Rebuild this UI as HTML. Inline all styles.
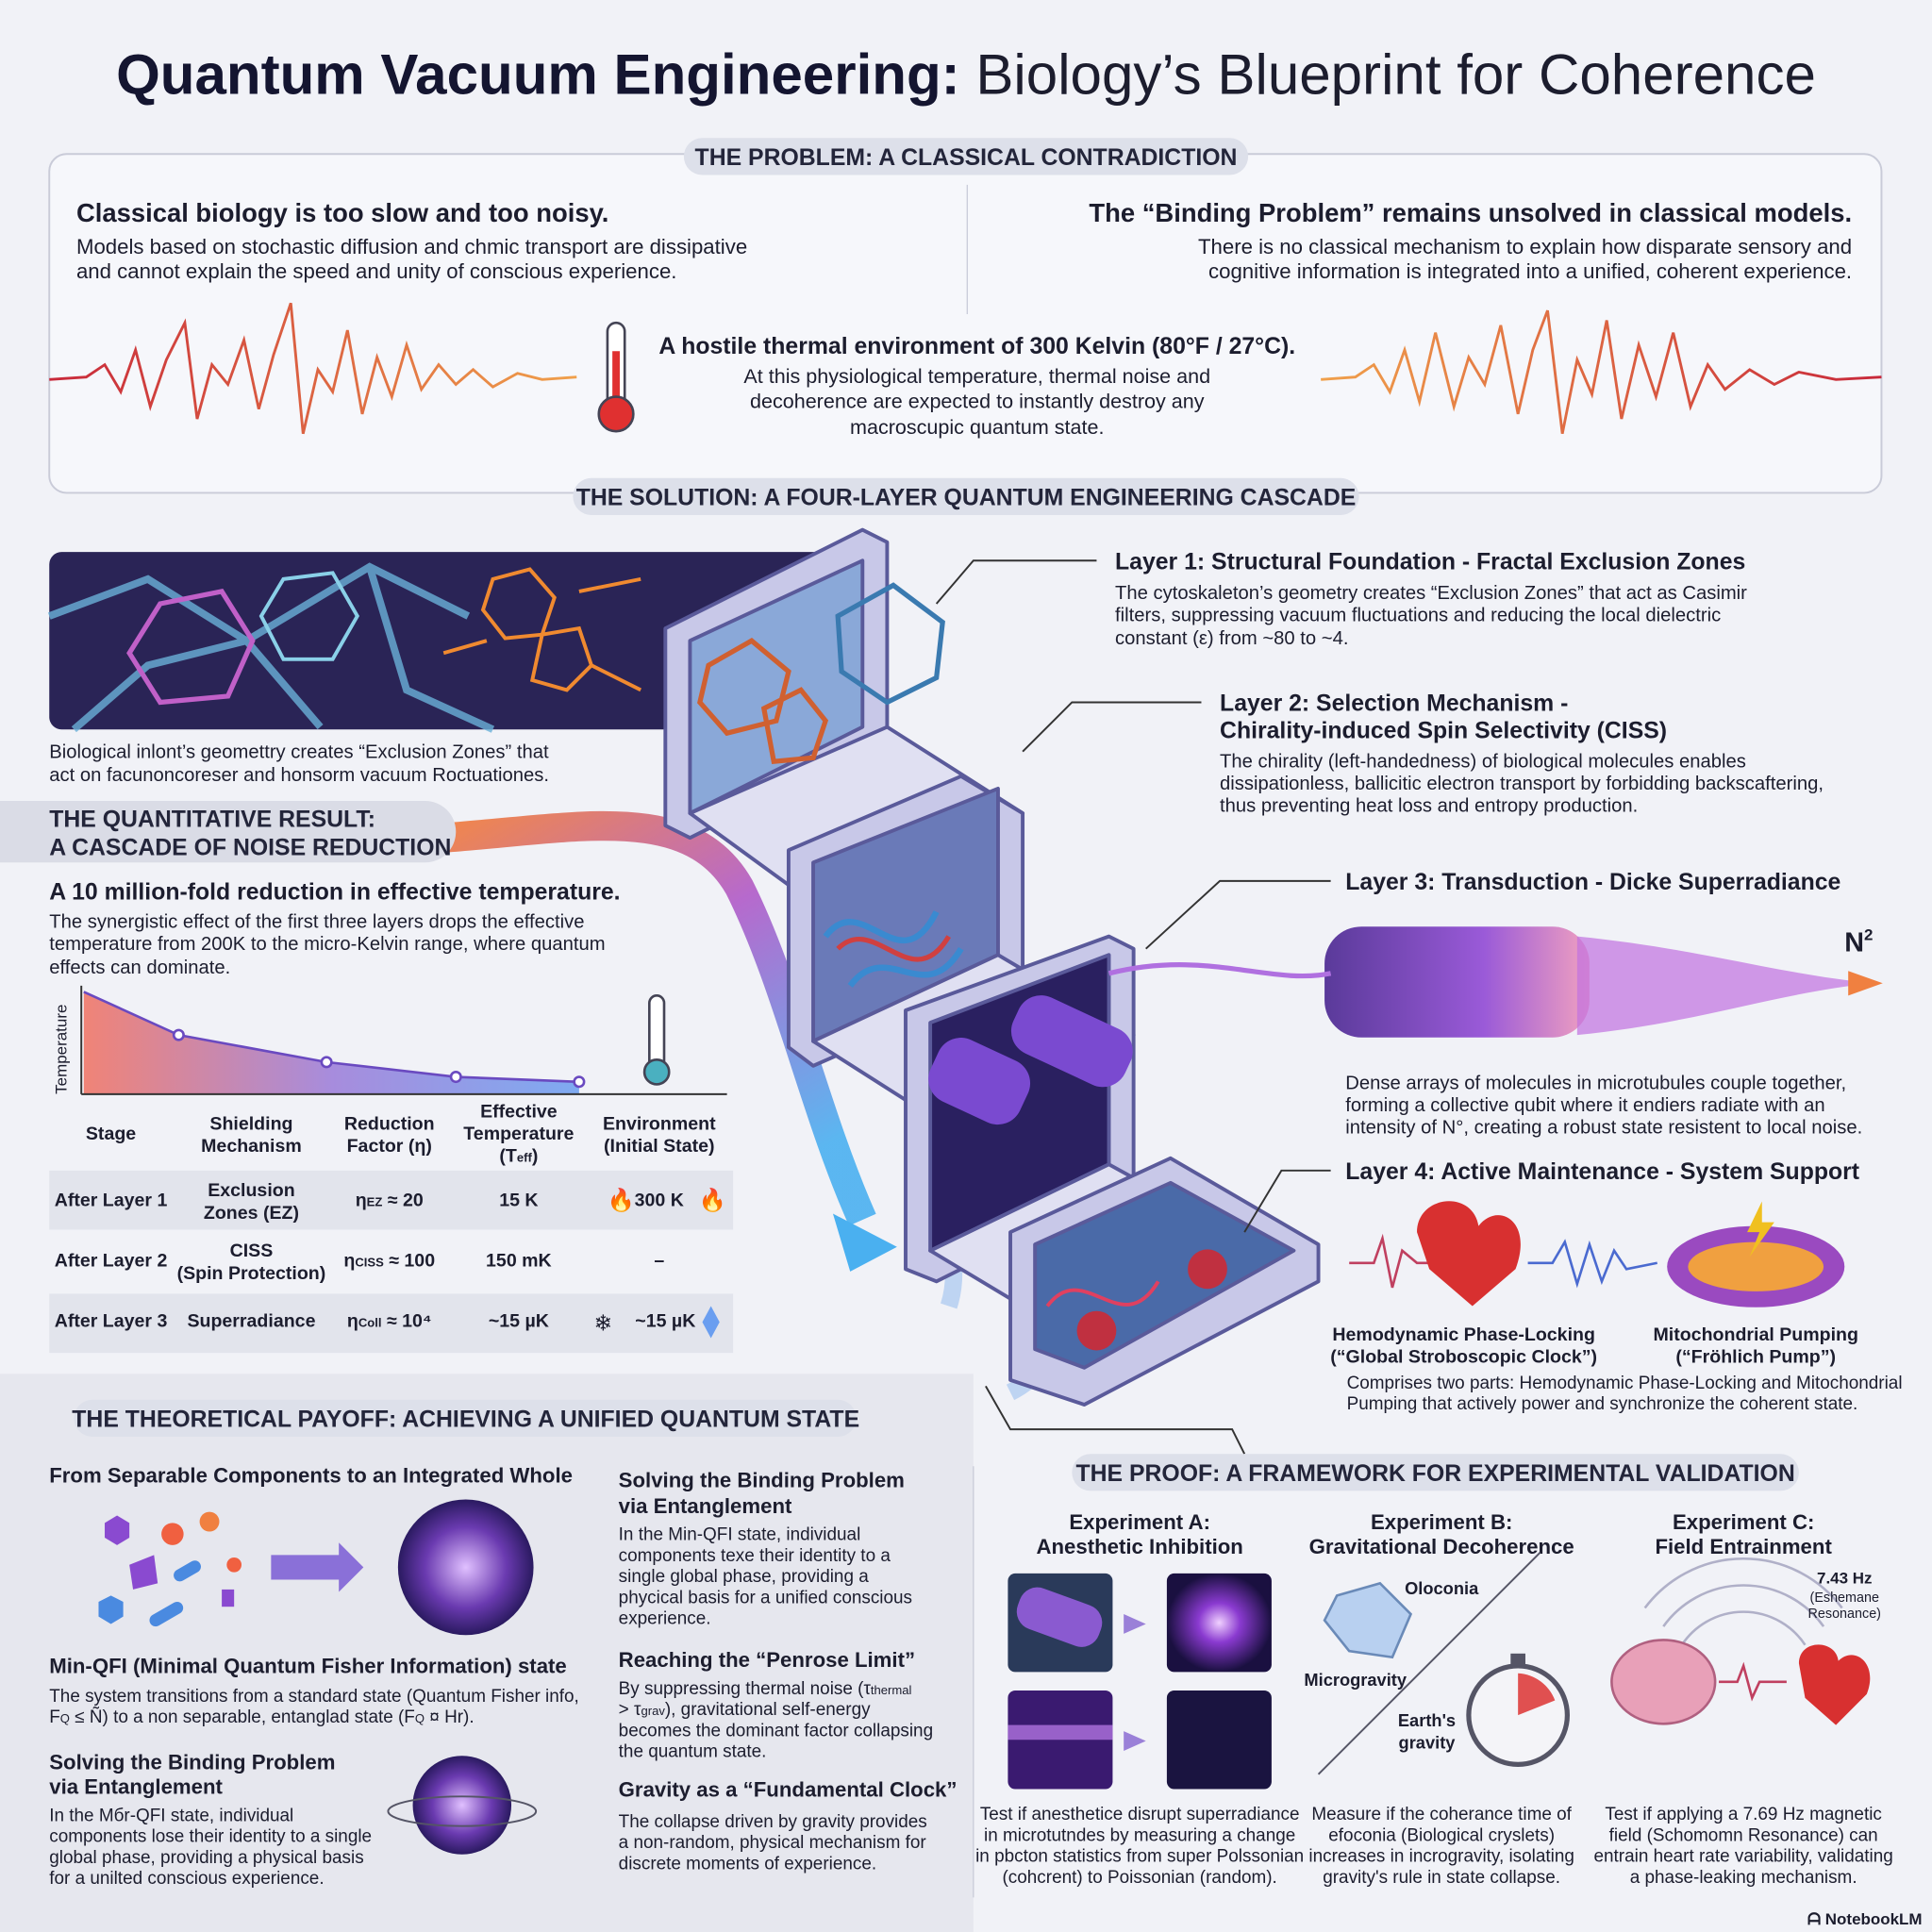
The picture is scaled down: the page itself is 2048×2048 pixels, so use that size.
<!DOCTYPE html>
<html><head><meta charset="utf-8"><style>
html,body{margin:0;padding:0;background:#f1f2f7;}
svg{display:block}
text{font-family:"Liberation Sans",sans-serif;fill:#1c1d2e}
.h{font-weight:bold}
.pill{fill:#dde0ea}
.pt{font-weight:bold;font-size:19px;fill:#23253a}
</style></head><body>
<svg width="2048" height="2048" viewBox="0 0 1568 1568" xmlns="http://www.w3.org/2000/svg">
<defs>
<linearGradient id="wv" x1="0" x2="1"><stop offset="0" stop-color="#c8283a"/><stop offset="1" stop-color="#f0a04a"/></linearGradient>
<linearGradient id="wv2" x1="0" x2="1"><stop offset="0" stop-color="#f0a04a"/><stop offset="1" stop-color="#c8283a"/></linearGradient>
<linearGradient id="ar" x1="0" y1="0" x2="0.6" y2="1"><stop offset="0" stop-color="#f07a3a"/><stop offset="0.45" stop-color="#b05ac8"/><stop offset="1" stop-color="#4ab0f0"/></linearGradient>
<linearGradient id="ch" x1="0" x2="1"><stop offset="0" stop-color="#f07060"/><stop offset="0.5" stop-color="#9a7ad8"/><stop offset="1" stop-color="#6a9ef0"/></linearGradient>
<linearGradient id="mt" x1="0" x2="1"><stop offset="0" stop-color="#5a3a9a"/><stop offset="0.6" stop-color="#9a5ad8"/><stop offset="1" stop-color="#f0a0c0"/></linearGradient>
<radialGradient id="gl"><stop offset="0" stop-color="#f0d0ff"/><stop offset="0.4" stop-color="#8a3ad0"/><stop offset="1" stop-color="#1a1040"/></radialGradient>
<radialGradient id="sp"><stop offset="0" stop-color="#e0c0ff"/><stop offset="0.6" stop-color="#6a3ab0"/><stop offset="1" stop-color="#2a1a60"/></radialGradient>
</defs>
<rect width="1568" height="1568" fill="#f1f2f7"/>
<rect x="0" y="1115" width="790" height="453" fill="#e6e7ee"/>
<text x="784" y="76" text-anchor="middle" font-size="46"><tspan class="h" fill="#141530">Quantum Vacuum Engineering:</tspan><tspan fill="#1c1d2e"> Biology’s Blueprint for Coherence</tspan></text>
<rect x="40" y="125" width="1487" height="275" rx="14" fill="#f6f7fb" stroke="#c9cbd8" stroke-width="1.5"/>
<rect x="555" y="112" width="458" height="30" rx="15" class="pill"/>
<text x="784" y="134" text-anchor="middle" class="pt">THE PROBLEM: A CLASSICAL CONTRADICTION</text>
<text x="62" y="180" class="h" font-size="21">Classical biology is too slow and too noisy.</text>
<text x="62" y="206" font-size="17">Models based on stochastic diffusion and chmic transport are dissipative</text>
<text x="62" y="226" font-size="17">and cannot explain the speed and unity of conscious experience.</text>
<line x1="785" y1="150" x2="785" y2="255" stroke="#c9cbd8"/>
<text x="1503" y="180" text-anchor="end" class="h" font-size="21">The “Binding Problem” remains unsolved in classical models.</text>
<text x="1503" y="206" text-anchor="end" font-size="17">There is no classical mechanism to explain how disparate sensory and</text>
<text x="1503" y="226" text-anchor="end" font-size="17">cognitive information is integrated into a unified, coherent experience.</text>
<polyline fill="none" stroke="url(#wv)" stroke-width="2.2" points="40,308 70,306 85,296 98,318 110,284 122,330 135,292 150,262 160,340 172,296 185,312 198,276 210,332 222,288 236,246 246,352 258,300 270,318 282,268 294,336 306,290 318,322 330,280 342,316 356,296 370,312 384,300 400,314 420,303 440,308 468,306"/>
<polyline fill="none" stroke="url(#wv2)" stroke-width="2.2" points="1072,308 1100,306 1115,296 1128,318 1140,284 1152,326 1165,270 1180,330 1192,290 1205,312 1218,264 1232,336 1244,284 1256,252 1268,352 1280,292 1292,320 1304,260 1316,340 1330,280 1344,322 1358,270 1372,330 1386,296 1400,316 1420,300 1440,312 1460,302 1490,308 1527,306"/>
<rect x="493" y="262" width="14" height="72" rx="7" fill="#fff" stroke="#445" stroke-width="2"/>
<rect x="497" y="285" width="6" height="52" fill="#e03030"/>
<circle cx="500" cy="336" r="14" fill="#e03030" stroke="#445" stroke-width="2"/>
<text x="793" y="287" text-anchor="middle" class="h" font-size="19">A hostile thermal environment of 300 Kelvin (80°F / 27°C).</text>
<text x="793" y="311" text-anchor="middle" font-size="16.5">At this physiological temperature, thermal noise and</text>
<text x="793" y="331" text-anchor="middle" font-size="16.5">decoherence are expected to instantly destroy any</text>
<text x="793" y="352" text-anchor="middle" font-size="16.5">macroscupic quantum state.</text>
<rect x="465" y="388" width="638" height="30" rx="15" class="pill"/>
<text x="784" y="410" text-anchor="middle" class="pt">THE SOLUTION: A FOUR-LAYER QUANTUM ENGINEERING CASCADE</text>
<rect x="40" y="448" width="660" height="144" rx="10" fill="#2a2456"/>
<g fill="none" stroke="#6ab0d8" stroke-width="6" opacity="0.8">
<path d="M40,500 L120,470 L200,520 L300,460 L380,500"/><path d="M60,592 L120,540 L200,520 L260,590"/><path d="M300,460 L330,560 L400,592"/></g>
<polygon points="130,490 180,480 205,520 185,565 130,570 105,530" fill="none" stroke="#c060c8" stroke-width="4"/>
<polygon points="230,470 270,465 290,500 270,535 230,535 212,500" fill="none" stroke="#8ad0e8" stroke-width="3"/>
<g fill="none" stroke="#f08a30" stroke-width="3"><polygon points="400,470 430,462 450,485 440,515 410,518 392,495"/><polygon points="440,515 470,510 480,540 460,560 432,552"/><path d="M360,530 L395,520 M480,540 L520,560 M470,480 L520,470"/></g>
<text x="40" y="615" font-size="15.5">Biological inlont’s geomettry creates “Exclusion Zones” that</text>
<text x="40" y="634" font-size="15.5">act on facunoncoreser and honsorm vacuum Roctuationes.</text>
<!-- arrows -->
<path d="M360,680 C470,672 560,650 600,720 C640,800 660,900 700,990" fill="none" stroke="url(#ar)" stroke-width="24" opacity="0.9"/>
<polygon points="676,985 728,1012 690,1032" fill="#4ab0f0"/>
<path d="M650,660 C660,760 680,820 700,850" fill="none" stroke="#b090e0" stroke-width="14" opacity="0.7"/>
<path d="M760,940 C770,1000 780,1030 770,1060" fill="none" stroke="#a8c8f0" stroke-width="14" opacity="0.7"/>
<path d="M860,1060 C860,1100 840,1120 820,1130" fill="none" stroke="#a8c8f0" stroke-width="14" opacity="0.7"/>
<path d="M0,650 H345 A25,25 0 0 1 345,700 H0 Z" fill="#dadce6"/>
<text x="40" y="671" class="pt" font-size="19">THE QUANTITATIVE RESULT:</text>
<text x="40" y="694" class="pt" font-size="19">A CASCADE OF NOISE REDUCTION</text>
<text x="40" y="730" class="h" font-size="19">A 10 million-fold reduction in effective temperature.</text>
<text x="40" y="753" font-size="15.5">The synergistic effect of the first three layers drops the effective</text>
<text x="40" y="771" font-size="15.5">temperature from 200K to the micro-Kelvin range, where quantum</text>
<text x="40" y="790" font-size="15.5">effects can dominate.</text>
<path d="M68,805 L145,840 L265,862 L370,874 L470,878 L470,888 L68,888 Z" fill="url(#ch)" opacity="0.85"/>
<polyline points="68,805 145,840 265,862 370,874 470,878" fill="none" stroke="#6a4ac0" stroke-width="2"/>
<g fill="#fff" stroke="#6a4ac0" stroke-width="2"><circle cx="145" cy="840" r="4"/><circle cx="265" cy="862" r="4"/><circle cx="370" cy="874" r="4"/><circle cx="470" cy="878" r="4"/></g>
<line x1="66" y1="800" x2="66" y2="888" stroke="#333" stroke-width="1.5"/><line x1="66" y1="888" x2="590" y2="888" stroke="#333" stroke-width="1.5"/>
<text x="54" y="888" font-size="13" transform="rotate(-90 54 888)">Temperature</text>
<rect x="527" y="808" width="12" height="60" rx="6" fill="#fff" stroke="#445" stroke-width="2"/><circle cx="533" cy="870" r="10" fill="#4ab0c0" stroke="#445" stroke-width="2"/>
<g font-size="15" font-weight="bold" text-anchor="middle">
<text x="90" y="925">Stage</text><text x="204" y="917">Shielding</text><text x="204" y="935">Mechanism</text>
<text x="316" y="917">Reduction</text><text x="316" y="935">Factor (η)</text>
<text x="421" y="907">Effective</text><text x="421" y="925">Temperature</text><text x="421" y="943">(T<tspan font-size="10">eff</tspan>)</text>
<text x="535" y="917">Environment</text><text x="535" y="935">(Initial State)</text></g>
<rect x="40" y="950" width="555" height="48" fill="#e2e4ec"/>
<rect x="40" y="1050" width="555" height="48" fill="#e2e4ec"/>
<g font-size="15" font-weight="bold" text-anchor="middle">
<text x="90" y="979">After Layer 1</text><text x="204" y="971">Exclusion</text><text x="204" y="989">Zones (EZ)</text><text x="316" y="979">η<tspan font-size="10">EZ</tspan> ≈ 20</text><text x="421" y="979">15 K</text><text x="535" y="979">300 K</text>
<text x="90" y="1028">After Layer 2</text><text x="204" y="1020">CISS</text><text x="204" y="1038">(Spin Protection)</text><text x="316" y="1028">η<tspan font-size="10">CISS</tspan> ≈ 100</text><text x="421" y="1028">150 mK</text><text x="535" y="1028">–</text>
<text x="90" y="1077">After Layer 3</text><text x="204" y="1077">Superradiance</text><text x="316" y="1077">η<tspan font-size="10">Coll</tspan> ≈ 10⁴</text><text x="421" y="1077">~15 µK</text><text x="540" y="1077">~15 µK</text></g>
<text x="493" y="980" font-size="18" fill="#f06020">🔥</text><text x="567" y="980" font-size="18" fill="#f06020">🔥</text>
<text x="482" y="1080" font-size="18" fill="#4ab0d0">❄</text><polygon points="577,1060 584,1073 577,1086 570,1073" fill="#6a9ef0"/>
<g stroke="#5a5a9a" stroke-width="3" stroke-linejoin="round">
<polygon points="540,510 700,430 720,440 720,600 560,680 540,670" fill="#c8c8e8"/>
<polygon points="560,520 700,455 700,590 560,660" fill="#8aa8d8"/>
<polygon points="560,660 720,590 830,660 670,740" fill="#e0e0f2"/>
<polygon points="640,690 780,630 830,660 830,790 660,865 640,850" fill="#c8c8e8"/>
<polygon points="660,700 810,640 810,775 660,845" fill="#6a7ab8"/>
<polygon points="660,845 810,775 920,840 770,915" fill="#e0e0f2"/>
<polygon points="735,820 900,760 920,770 920,960 760,1040 735,1030" fill="#c8c8e8"/>
<polygon points="755,830 900,775 900,945 755,1015" fill="#2a2060"/>
<polygon points="755,1015 900,945 1000,1000 855,1075" fill="#e0e0f2"/>
<polygon points="820,1000 950,940 1070,1010 1070,1040 880,1140 820,1120" fill="#c8c8e8"/>
<polygon points="840,1010 950,960 1050,1015 880,1110 840,1095" fill="#4a6aa8"/>
</g>
<g fill="none" stroke="#d06030" stroke-width="4"><polygon points="575,540 610,520 640,545 630,585 590,595 568,570"/><polygon points="620,575 650,560 670,585 660,615 628,618"/></g>
<polygon points="680,500 725,475 765,505 760,550 720,570 683,545" fill="none" stroke="#3a7ab0" stroke-width="4"/>
<path d="M670,760 C700,720 730,800 760,740 M690,800 C720,760 750,820 780,770" stroke="#3a8ad0" stroke-width="5" fill="none"/>
<path d="M680,770 C710,740 740,810 770,760" stroke="#d04040" stroke-width="4" fill="none"/>
<g fill="#7a4ad0"><rect x="755" y="850" width="80" height="55" rx="20" transform="rotate(25 795 877)"/><rect x="820" y="820" width="100" height="50" rx="20" transform="rotate(25 870 845)"/></g>
<path d="M850,1060 C880,1020 910,1090 940,1040" stroke="#e04060" stroke-width="3" fill="none"/>
<circle cx="890" cy="1080" r="16" fill="#c03040"/><circle cx="980" cy="1030" r="16" fill="#c03040"/>
<g stroke="#333" fill="none" stroke-width="1.5"><path d="M760,490 L790,455 H890"/><path d="M830,610 L870,570 H975"/><path d="M930,770 L990,715 H1080"/><path d="M1010,1000 L1040,950 H1080"/><path d="M800,1125 L820,1160 H1000 L1010,1180"/></g>
<text x="905" y="462" class="h" font-size="19">Layer 1: Structural Foundation - Fractal Exclusion Zones</text>
<text x="905" y="486" font-size="15.5">The cytoskaleton’s geometry creates “Exclusion Zones” that act as Casimir</text>
<text x="905" y="504" font-size="15.5">filters, suppressing vacuum fluctuations and reducing the local dielectric</text>
<text x="905" y="523" font-size="15.5">constant (ε) from ~80 to ~4.</text>
<text x="990" y="577" class="h" font-size="19">Layer 2: Selection Mechanism -</text>
<text x="990" y="599" class="h" font-size="19">Chirality-induced Spin Selectivity (CISS)</text>
<text x="990" y="623" font-size="15.5">The chirality (left-handedness) of biological molecules enables</text>
<text x="990" y="641" font-size="15.5">dissipationless, ballicitic electron transport by forbidding backscaftering,</text>
<text x="990" y="659" font-size="15.5">thus preventing heat loss and entropy production.</text>
<text x="1092" y="722" class="h" font-size="19">Layer 3: Transduction - Dicke Superradiance</text>
<rect x="1075" y="752" width="215" height="90" rx="30" fill="url(#mt)"/>
<path d="M1280,760 C1380,770 1440,790 1520,798 C1440,806 1380,830 1280,840 Z" fill="#c070e0" opacity="0.7"/>
<path d="M900,790 C980,770 1030,800 1080,790" stroke="#b070e0" stroke-width="4" fill="none"/>
<polygon points="1500,788 1528,798 1500,808" fill="#f08040"/>
<text x="1497" y="772" class="h" font-size="22" fill="#3a4ab0">N<tspan font-size="13" dy="-9">2</tspan></text>
<text x="1092" y="884" font-size="15.5">Dense arrays of molecules in microtubules couple together,</text>
<text x="1092" y="902" font-size="15.5">forming a collective qubit where it endiers radiate with an</text>
<text x="1092" y="920" font-size="15.5">intensity of N°, creating a robust state resistent to local noise.</text>
<text x="1092" y="957" class="h" font-size="19">Layer 4: Active Maintenance - System Support</text>
<polyline fill="none" stroke="#c04060" stroke-width="2" points="1095,1025 1115,1025 1122,1005 1130,1045 1138,1015 1150,1025 1165,1025"/>
<path d="M1150,1000 C1150,970 1195,965 1200,995 C1215,975 1245,990 1230,1030 L1195,1060 L1160,1030 Z" fill="#d83030"/>
<polyline fill="none" stroke="#4a6ad0" stroke-width="2" points="1240,1025 1260,1025 1270,1008 1280,1042 1290,1010 1300,1040 1310,1015 1320,1030 1345,1025"/>
<ellipse cx="1425" cy="1028" rx="72" ry="33" fill="#9a4ac0"/><ellipse cx="1425" cy="1028" rx="55" ry="20" fill="#f0a040"/>
<polygon points="1430,975 1418,1000 1428,1000 1420,1020 1440,992 1430,992" fill="#f0c020"/>
<text x="1188" y="1088" text-anchor="middle" class="h" font-size="15">Hemodynamic Phase-Locking</text>
<text x="1188" y="1106" text-anchor="middle" class="h" font-size="15">(“Global Stroboscopic Clock”)</text>
<text x="1425" y="1088" text-anchor="middle" class="h" font-size="15">Mitochondrial Pumping</text>
<text x="1425" y="1106" text-anchor="middle" class="h" font-size="15">(“Fröhlich Pump”)</text>
<text x="1093" y="1127" font-size="14.5">Comprises two parts: Hemodynamic Phase-Locking and Mitochondrial</text>
<text x="1093" y="1144" font-size="14.5">Pumping that actively power and synchronize the coherent state.</text>
<rect x="60" y="1136" width="635" height="30" rx="15" class="pill"/>
<text x="378" y="1158" text-anchor="middle" class="pt">THE THEORETICAL PAYOFF: ACHIEVING A UNIFIED QUANTUM STATE</text>
<text x="40" y="1203" class="h" font-size="17">From Separable Components to an Integrated Whole</text>
<g><polygon points="95,1230 105,1236 105,1248 95,1254 85,1248 85,1236" fill="#8a4ad0"/><circle cx="140" cy="1245" r="9" fill="#f06040"/><polygon points="105,1270 125,1262 128,1285 108,1290" fill="#8a4ad0"/><rect x="140" y="1270" width="24" height="10" rx="5" fill="#4a8ae0" transform="rotate(-30 152 1275)"/><circle cx="170" cy="1235" r="8" fill="#f08040"/><rect x="120" y="1305" width="30" height="10" rx="5" fill="#4a8ae0" transform="rotate(-30 135 1310)"/><polygon points="90,1295 100,1300 100,1312 90,1318 80,1312 80,1300" fill="#4a8ae0"/><circle cx="190" cy="1270" r="6" fill="#f06040"/><rect x="180" y="1290" width="10" height="14" fill="#8a4ad0"/></g>
<polygon points="220,1262 275,1262 275,1252 295,1272 275,1292 275,1282 220,1282" fill="#8a70d8"/>
<circle cx="378" cy="1272" r="55" fill="url(#sp)"/>
<text x="40" y="1358" class="h" font-size="17">Min-QFI (Minimal Quantum Fisher Information) state</text>
<text x="40" y="1381" font-size="14.5">The system transitions from a standard state (Quantum Fisher info,</text>
<text x="40" y="1398" font-size="14.5">F<tspan font-size="10">Q</tspan> ≤ Ñ) to a non separable, entanglad state (F<tspan font-size="10">Q</tspan> ¤ Hr).</text>
<text x="40" y="1436" class="h" font-size="17">Solving the Binding Problem</text>
<text x="40" y="1456" class="h" font-size="17">via Entanglement</text>
<text x="40" y="1478" font-size="14.5">In the Mбr-QFI state, individual</text>
<text x="40" y="1495" font-size="14.5">components lose their identity to a single</text>
<text x="40" y="1512" font-size="14.5">global phase, providing a physical basis</text>
<text x="40" y="1529" font-size="14.5">for a unilted conscious experience.</text>
<circle cx="375" cy="1465" r="40" fill="url(#sp)"/><ellipse cx="375" cy="1470" rx="60" ry="12" fill="none" stroke="#556" stroke-width="1.5"/>
<text x="502" y="1207" class="h" font-size="17">Solving the Binding Problem</text>
<text x="502" y="1228" class="h" font-size="17">via Entanglement</text>
<text x="502" y="1250" font-size="14.5">In the Min-QFI state, individual</text>
<text x="502" y="1267" font-size="14.5">components texe their identity to a</text>
<text x="502" y="1284" font-size="14.5">single global phase, providing a</text>
<text x="502" y="1301" font-size="14.5">phycical basis for a unified conscious</text>
<text x="502" y="1318" font-size="14.5">experience.</text>
<text x="502" y="1353" class="h" font-size="17">Reaching the “Penrose Limit”</text>
<text x="502" y="1375" font-size="14.5">By suppressing thermal noise (τ<tspan font-size="10">thermal</tspan></text>
<text x="502" y="1392" font-size="14.5">&gt; τ<tspan font-size="10">grav</tspan>), gravitational self-energy</text>
<text x="502" y="1409" font-size="14.5">becomes the dominant factor collapsing</text>
<text x="502" y="1426" font-size="14.5">the quantum state.</text>
<text x="502" y="1458" class="h" font-size="17">Gravity as a “Fundamental Clock”</text>
<text x="502" y="1483" font-size="14.5">The collapse driven by gravity provides</text>
<text x="502" y="1500" font-size="14.5">a non-random, physical mechanism for</text>
<text x="502" y="1517" font-size="14.5">discrete moments of experience.</text>
<line x1="790" y1="1190" x2="790" y2="1540" stroke="#c9cbd8"/>
<rect x="870" y="1180" width="590" height="30" rx="15" class="pill"/>
<text x="1165" y="1202" text-anchor="middle" class="pt">THE PROOF: A FRAMEWORK FOR EXPERIMENTAL VALIDATION</text>
<g class="h" font-size="17" text-anchor="middle"><text x="925" y="1241">Experiment A:</text><text x="925" y="1261">Anesthetic Inhibition</text>
<text x="1170" y="1241">Experiment B:</text><text x="1170" y="1261">Gravitational Decoherence</text>
<text x="1415" y="1241">Experiment C:</text><text x="1415" y="1261">Field Entrainment</text></g>
<rect x="818" y="1277" width="85" height="80" rx="6" fill="#2a3a5a"/><rect x="825" y="1295" width="70" height="35" rx="15" fill="#8a5ad0" transform="rotate(20 860 1312)"/>
<rect x="947" y="1277" width="85" height="80" rx="6" fill="url(#gl)"/>
<rect x="818" y="1372" width="85" height="80" rx="6" fill="#3a1a70"/><rect x="818" y="1400" width="85" height="12" fill="#c080f0" opacity="0.7"/>
<rect x="947" y="1372" width="85" height="80" rx="6" fill="#1a1440"/>
<polygon points="912,1310 930,1318 912,1326" fill="#9a80d8"/><polygon points="912,1405 930,1413 912,1421" fill="#9a80d8"/>
<polygon points="1085,1295 1120,1285 1145,1310 1130,1345 1095,1340 1075,1315" fill="#b8d0f0" stroke="#6a8ab8" stroke-width="2"/>
<text x="1170" y="1294" class="h" font-size="14" text-anchor="middle">Oloconia</text>
<text x="1100" y="1368" class="h" font-size="14" text-anchor="middle">Microgravity</text>
<line x1="1070" y1="1440" x2="1250" y2="1260" stroke="#556" stroke-width="1.5"/>
<text x="1158" y="1401" class="h" font-size="14" text-anchor="middle">Earth's</text><text x="1158" y="1419" class="h" font-size="14" text-anchor="middle">gravity</text>
<circle cx="1232" cy="1392" r="40" fill="#f4f4f8" stroke="#556" stroke-width="4"/><rect x="1226" y="1342" width="12" height="10" fill="#556"/><path d="M1232,1392 L1232,1358 A34,34 0 0 1 1262,1380 Z" fill="#e05050"/>
<g fill="none" stroke="#b0b0c8" stroke-width="2"><path d="M1350,1320 A80,80 0 0 1 1480,1320"/><path d="M1335,1305 A100,100 0 0 1 1495,1305"/><path d="M1365,1335 A60,60 0 0 1 1465,1335"/></g>
<ellipse cx="1350" cy="1365" rx="42" ry="34" fill="#e8a0b8" stroke="#b06080" stroke-width="2"/>
<path d="M1460,1350 C1460,1330 1490,1330 1492,1348 C1505,1335 1525,1350 1515,1375 L1490,1400 L1465,1378 Z" fill="#d83030"/>
<polyline fill="none" stroke="#c04060" stroke-width="2" points="1395,1365 1410,1365 1415,1352 1422,1378 1428,1365 1450,1365"/>
<text x="1497" y="1285" class="h" font-size="13" text-anchor="middle">7.43 Hz</text>
<text x="1497" y="1300" font-size="11" text-anchor="middle">(Eshemane</text><text x="1497" y="1313" font-size="11" text-anchor="middle">Resonance)</text>
<g font-size="14.5" text-anchor="middle"><text x="925" y="1477">Test if anesthetice disrupt superradiance</text><text x="925" y="1494">in microtutndes by measuring a change</text><text x="925" y="1511">in pbcton statistics from super Polssonian</text><text x="925" y="1528">(cohcrent) to Poissonian (random).</text>
<text x="1170" y="1477">Measure if the coherance time of</text><text x="1170" y="1494">efoconia (Biological cryslets)</text><text x="1170" y="1511">increases in incrogravity, isolating</text><text x="1170" y="1528">gravity's rule in state collapse.</text>
<text x="1415" y="1477">Test if applying a 7.69 Hz magnetic</text><text x="1415" y="1494">field (Schomomn Resonance) can</text><text x="1415" y="1511">entrain heart rate variability, validating</text><text x="1415" y="1528">a phase-leaking mechanism.</text></g>
<text x="1560" y="1562" text-anchor="end" class="h" font-size="13">ᗩ NotebookLM</text>
</svg>
</body></html>
